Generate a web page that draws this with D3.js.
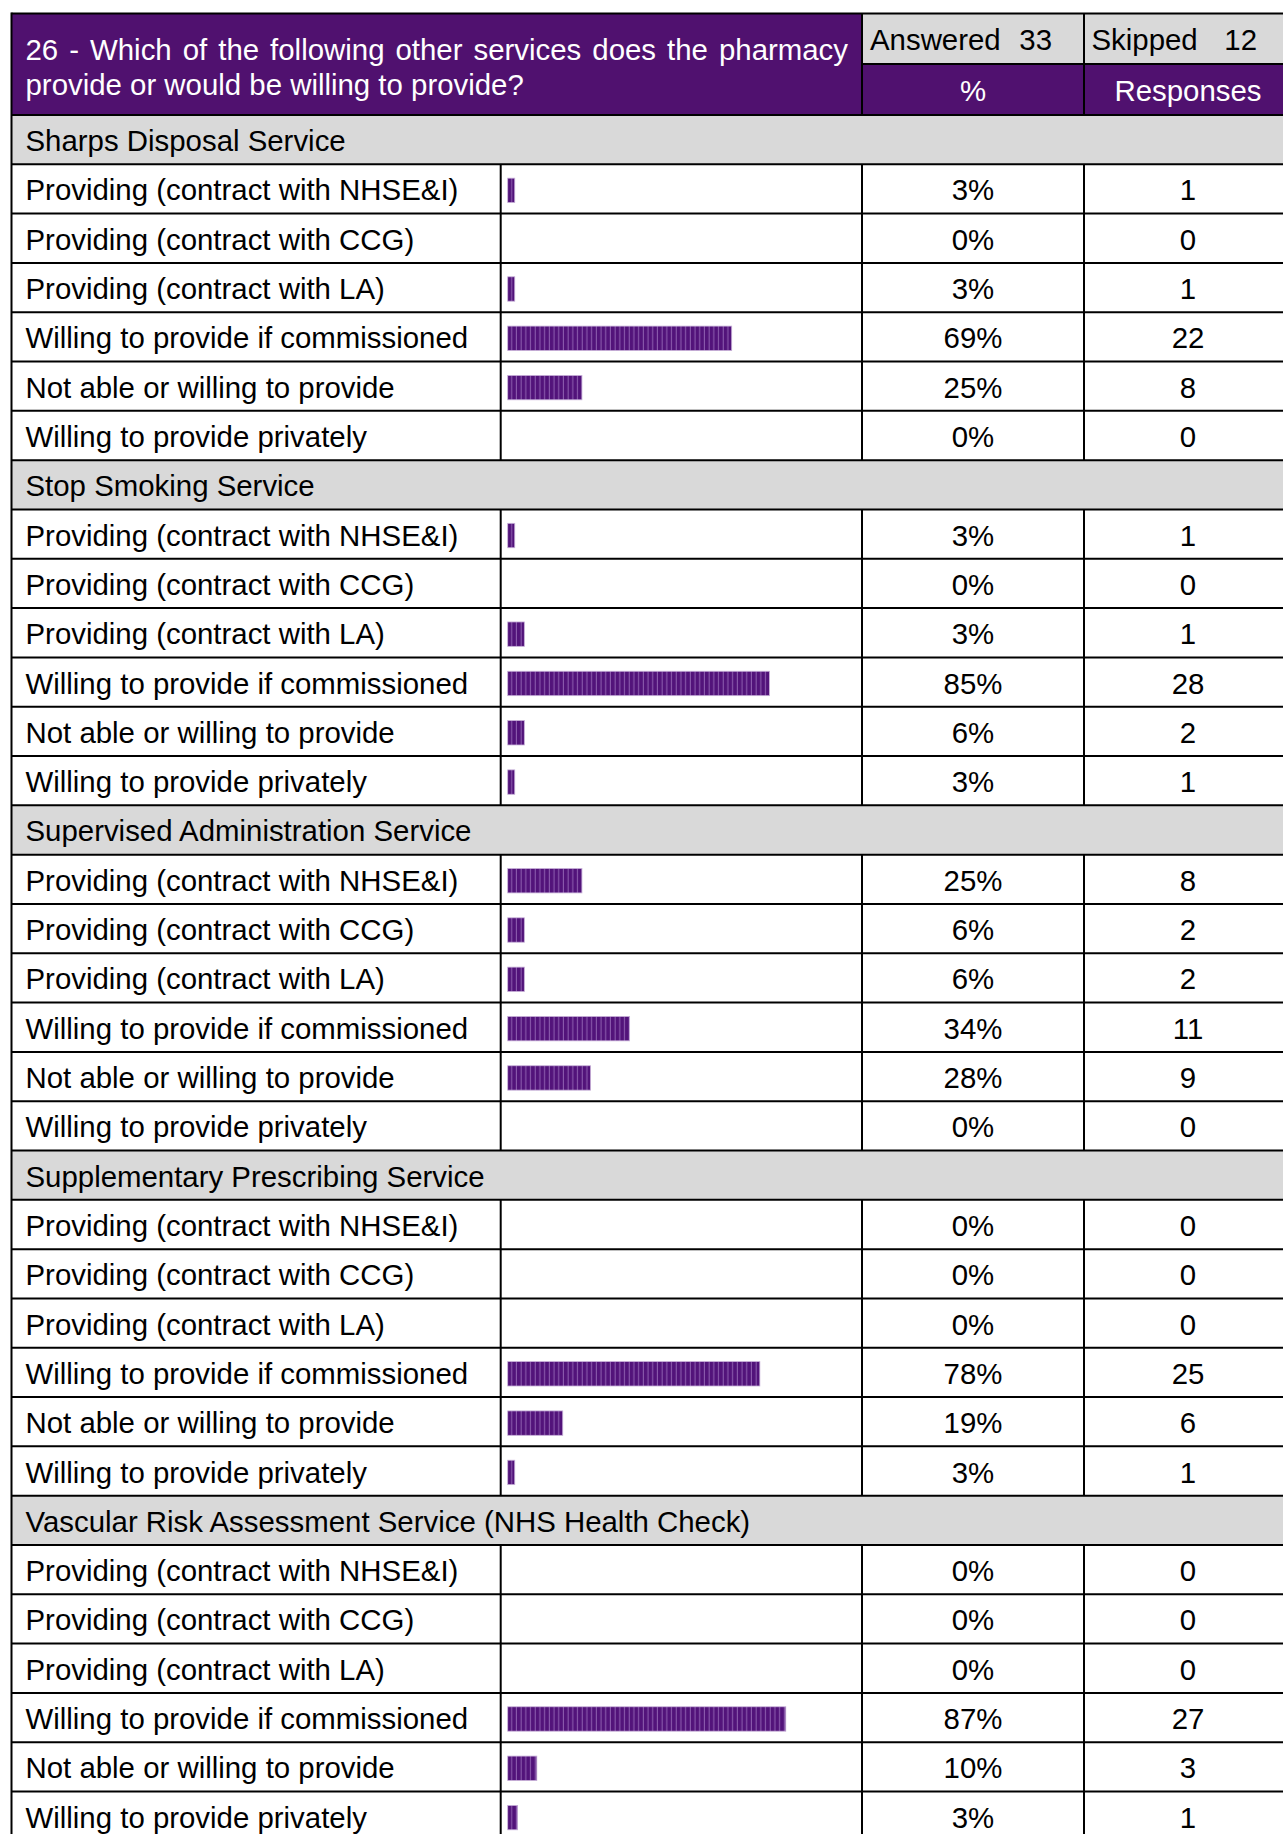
<!DOCTYPE html>
<html>
<head>
<meta charset="utf-8">
<script src="https://cdn.jsdelivr.net/npm/d3@7"></script>
<style>
  html, body { margin: 0; padding: 0; background: #ffffff; }
  svg { display: block; }
  text { font-family: "Liberation Sans", Arial, sans-serif; }
</style>
</head>
<body>
<div id="chart"></div>
<script>
// ---------- DATA ----------
const titleLines = ["26 - Which of the following other services does the pharmacy", "provide or would be willing to provide?"];
const answered = 33;
const skipped = 12;
const headerLabels = ["%", "Responses"];

const sections = [
  "Sharps Disposal Service",
  "Stop Smoking Service",
  "Supervised Administration Service",
  "Supplementary Prescribing Service",
  "Vascular Risk Assessment Service (NHS Health Check)"
];
const options = [
  "Providing (contract with NHSE&I)",
  "Providing (contract with CCG)",
  "Providing (contract with LA)",
  "Willing to provide if commissioned",
  "Not able or willing to provide",
  "Willing to provide privately"
];
// percentage labels shown in the % column
const sharpsPct   = [3, 0, 3, 69, 25, 0];
const smokingPct  = [3, 0, 3, 85, 6, 3];
const supervPct   = [25, 6, 6, 34, 28, 0];
const supplPct    = [0, 0, 0, 78, 19, 3];
const vascularPct = [0, 0, 0, 87, 10, 3];
// response counts
const sharpsResp   = [1, 0, 1, 22, 8, 0];
const smokingResp  = [1, 0, 1, 28, 2, 1];
const supervResp   = [8, 2, 2, 11, 9, 0];
const supplResp    = [0, 0, 0, 25, 6, 1];
const vascularResp = [0, 0, 0, 27, 3, 1];
// bar lengths (percent units)
const sharpsBar   = [2.2, 0, 2.2, 70, 23.2, 0];
const smokingBar  = [2.2, 0, 5.2, 81.8, 5.2, 2.2];
const supervBar   = [23.2, 5.2, 5.2, 38.1, 25.9, 0];
const supplBar    = [0, 0, 0, 78.8, 17.2, 2.2];
const vascularBar = [0, 0, 0, 86.9, 9.1, 3.1];

const pctTable  = [sharpsPct, smokingPct, supervPct, supplPct, vascularPct];
const respTable = [sharpsResp, smokingResp, supervResp, supplResp, vascularResp];
const barTable  = [sharpsBar, smokingBar, supervBar, supplBar, vascularBar];

// ---------- LAYOUT ----------
const W = 1283, H = 1834;
const FS = 29.4;
const BASE = 11.5;
const purple = "#50116f";
const gray = "#d9d9d9";
const xLeft = 11.5, xBar = 500.7, xPct = 862, xResp = 1084, xRight = 1292;
const yTop = 13.5, yMid = 64, yBody = 115, rowH = 49.31;

const rows = [];
sections.forEach((s, si) => {
  rows.push({type: "section", label: s});
  options.forEach((o, oi) => {
    rows.push({type: "item", label: o, pct: pctTable[si][oi], resp: respTable[si][oi], bar: barTable[si][oi]});
  });
});

const y = d3.scaleBand().domain(d3.range(rows.length)).range([yBody, yBody + rows.length * rowH]).padding(0);
const x = d3.scaleLinear().domain([0, 100]).range([0, 320]);
const barX0 = 507.7;

const svg = d3.select("#chart").append("svg").attr("width", W).attr("height", H);

// bar stripe pattern
const defs = svg.append("defs");
const pat = defs.append("pattern").attr("id", "stripes").attr("patternUnits", "userSpaceOnUse")
  .attr("width", 4.7).attr("height", 20);
pat.append("rect").attr("width", 4.7).attr("height", 20).attr("fill", "#52137a");
pat.append("rect").attr("x", 3.6).attr("width", 1.1).attr("height", 20).attr("fill", "#8a5aac");

// ---------- HEADER ----------
svg.append("rect").attr("x", xLeft).attr("y", yTop).attr("width", xPct - xLeft).attr("height", yBody - yTop).attr("fill", purple);
svg.append("rect").attr("x", xPct).attr("y", yTop).attr("width", xRight - xPct).attr("height", yMid - yTop).attr("fill", gray);
svg.append("rect").attr("x", xPct).attr("y", yMid).attr("width", xRight - xPct).attr("height", yBody - yMid).attr("fill", purple);

// justified title line 1, normal line 2
const titleG = svg.append("g").attr("fill", "#ffffff").attr("font-size", FS);
const tx0 = 25.5, tx1 = 848;
const words = titleLines[0].split(" ");
const wNodes = words.map(w => titleG.append("text").attr("y", 60).text(w));
const widths = wNodes.map(n => n.node().getComputedTextLength());
const gap = (tx1 - tx0 - d3.sum(widths)) / (words.length - 1);
let cx = tx0;
wNodes.forEach((n, i) => { n.attr("x", cx); cx += widths[i] + gap; });
titleG.append("text").attr("x", tx0).attr("y", 94.5).text(titleLines[1]);

const ySub1 = yTop + (yMid - yTop) / 2 + BASE;
svg.append("text").attr("x", 870).attr("y", ySub1).attr("font-size", FS).text("Answered");
svg.append("text").attr("x", 1052).attr("y", ySub1).attr("font-size", FS).attr("text-anchor", "end").text(answered);
svg.append("text").attr("x", 1091.5).attr("y", ySub1).attr("font-size", FS).text("Skipped");
svg.append("text").attr("x", 1257).attr("y", ySub1).attr("font-size", FS).attr("text-anchor", "end").text(skipped);

const ySub2 = yMid + (yBody - yMid) / 2 + BASE;
svg.append("text").attr("x", (xPct + xResp) / 2).attr("y", ySub2).attr("font-size", FS)
  .attr("text-anchor", "middle").attr("fill", "#fff").text(headerLabels[0]);
svg.append("text").attr("x", (xResp + xRight) / 2).attr("y", ySub2).attr("font-size", FS)
  .attr("text-anchor", "middle").attr("fill", "#fff").text(headerLabels[1]);

// ---------- BODY ----------
const rowG = svg.selectAll("g.row").data(rows).join("g").attr("class", "row")
  .attr("transform", (d, i) => `translate(0,${y(i)})`);

rowG.filter(d => d.type === "section").append("rect")
  .attr("x", xLeft).attr("y", 0).attr("width", xRight - xLeft).attr("height", rowH).attr("fill", gray);

rowG.append("text").attr("x", 25.5).attr("y", rowH / 2 + BASE).attr("font-size", FS).attr("fill", "#000")
  .text(d => d.label);

const items = rowG.filter(d => d.type === "item");
items.filter(d => d.bar > 0).append("rect")
  .attr("x", barX0).attr("y", rowH / 2 - 10.8).attr("width", d => x(d.bar)).attr("height", 24.4)
  .attr("fill", "url(#stripes)").attr("stroke", "#c7b0d8").attr("stroke-width", 0.8);
items.append("text").attr("x", (xPct + xResp) / 2).attr("y", rowH / 2 + BASE).attr("font-size", FS)
  .attr("text-anchor", "middle").text(d => d.pct + "%");
items.append("text").attr("x", (xResp + xRight) / 2).attr("y", rowH / 2 + BASE).attr("font-size", FS)
  .attr("text-anchor", "middle").text(d => d.resp);

// ---------- GRID LINES ----------
const lines = svg.append("g").attr("stroke", "#000").attr("stroke-width", 2).attr("fill", "none");
lines.append("line").attr("x1", xLeft).attr("x2", xRight).attr("y1", yTop).attr("y2", yTop);
lines.append("line").attr("x1", xPct).attr("x2", xRight).attr("y1", yMid).attr("y2", yMid);
d3.range(rows.length + 1).forEach(i => {
  const yy = yBody + i * rowH;
  lines.append("line").attr("x1", xLeft).attr("x2", xRight).attr("y1", yy).attr("y2", yy);
});
lines.append("line").attr("x1", xLeft).attr("x2", xLeft).attr("y1", yTop - 1).attr("y2", yBody + rows.length * rowH);
lines.append("line").attr("x1", xPct).attr("x2", xPct).attr("y1", yTop).attr("y2", yBody);
lines.append("line").attr("x1", xResp).attr("x2", xResp).attr("y1", yTop).attr("y2", yBody);
rows.forEach((r, i) => {
  if (r.type !== "item") return;
  const y0 = y(i), y1 = y0 + rowH;
  [xBar, xPct, xResp].forEach(xx => {
    lines.append("line").attr("x1", xx).attr("x2", xx).attr("y1", y0).attr("y2", y1);
  });
});
</script>
</body>
</html>
